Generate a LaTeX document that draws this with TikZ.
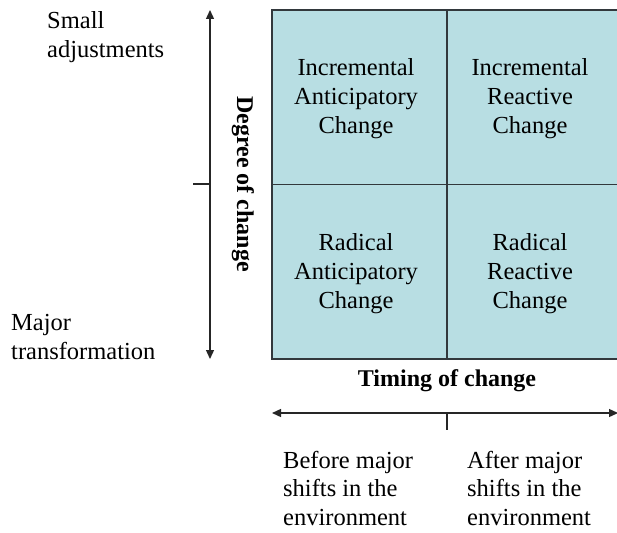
\documentclass[tikz,border=0pt]{standalone}
\usepackage{fontspec}
\setmainfont{Liberation Serif}
\usetikzlibrary{arrows.meta}
\definecolor{cellfill}{RGB}{184,222,227}
\definecolor{gridline}{RGB}{50,56,60}
\tikzset{
  cell/.style={draw=gridline, line width=1.4pt, fill=cellfill, rectangle,
    minimum width=175pt, minimum height=174.5pt, inner sep=0pt},
  celltext/.style={align=center, inner sep=0pt, font=\fontsize{24.5}{29}\selectfont},
  label/.style={align=left, inner sep=0pt, font=\fontsize{24.5}{29}\selectfont},
  axistitle/.style={inner sep=0pt, font=\bfseries\fontsize{24}{29}\selectfont},
  axis/.style={line width=1.3pt, draw=black!85},
  tip/.style={-{Triangle[length=9pt,width=8pt]}}
}
\begin{document}
\begin{tikzpicture}[x=1pt,y=-1pt]
\useasboundingbox (0,0) rectangle (617,532);
\begin{scope}
\clip (0,0) rectangle (617,532);
% the four quadrants
\node[cell] (c11) at (359.5, 97.25) {};
\node[cell] (c12) at (534.5, 97.25) {};
\node[cell] (c21) at (359.5, 271.75) {};
\node[cell] (c22) at (534.5, 271.75) {};
\end{scope}
\node[celltext] (t11) at (356, 99) {Incremental\\Anticipatory\\Change};
\node[celltext] (t12) at (530, 99) {Incremental\\Reactive\\Change};
\node[celltext] (t21) at (356, 274) {Radical\\Anticipatory\\Change};
\node[celltext] (t22) at (530, 274) {Radical\\Reactive\\Change};

% vertical axis: degree of change
\coordinate (vtop) at (210, 10);
\coordinate (vbot) at (210, 359);
\coordinate (vmid) at (210, 184);
\coordinate (vtick) at (193, 184);
\draw[axis, tip] (vmid) -- (vtop);
\draw[axis, tip] (vmid) -- (vbot);
\draw[axis] (vtick) -- (vmid);
\node[axistitle, rotate=-90] (degree) at (243, 184) {Degree of change};
\node[label, anchor=west] (small) at (47, 37) {Small\\adjustments};
\node[label, anchor=west] (major) at (11, 337) {Major\\transformation};

% horizontal axis: timing of change
\coordinate (hleft) at (272, 413);
\coordinate (hright) at (618, 413);
\coordinate (hmid) at (447, 413);
\coordinate (htick) at (447, 430);
\draw[axis, tip] (hmid) -- (hleft);
\draw[axis, tip] (hmid) -- (hright);
\draw[axis] (hmid) -- (htick);
\node[axistitle] (timing) at (447, 381) {Timing of change};
\node[label, anchor=west, font=\fontsize{24.5}{28.5}\selectfont] (before) at (283, 488) {Before major\\shifts in the\\environment};
\node[label, anchor=west, font=\fontsize{24.5}{28.5}\selectfont] (after) at (467, 488) {After major\\shifts in the\\environment};
\end{tikzpicture}
\end{document}
